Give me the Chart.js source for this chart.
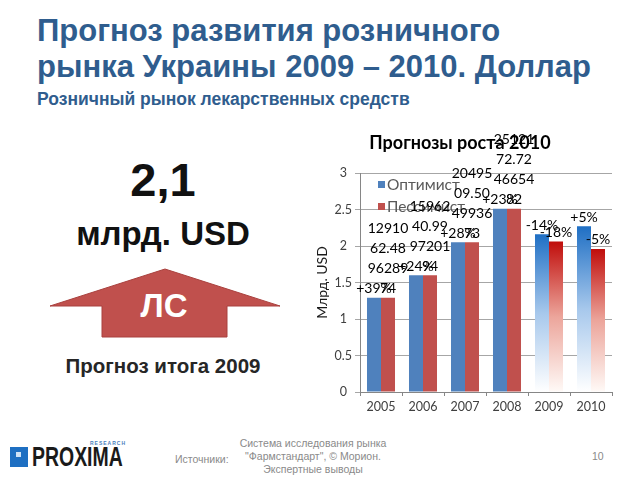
<!DOCTYPE html>
<html lang="ru">
<head>
<meta charset="UTF-8">
<title>Прогноз развития розничного рынка Украины 2009 – 2010</title>
<script src="https://cdn.jsdelivr.net/npm/chart.js@4.4.1/dist/chart.umd.min.js"></script>
<style>
    html, body { margin: 0; padding: 0; }
    body {
        width: 640px; height: 480px; position: relative; overflow: hidden;
        background: #fff; font-family: 'Liberation Sans', Arial, sans-serif;
    }
    .abs { position: absolute; white-space: nowrap; }
    .title {
        left: 37px; top: 13px; font-size: 31px; line-height: 36px;
        font-weight: bold; color: #2f5d8e;
    }
    .subtitle { left: 37px; top: 89px; font-size: 17.5px; font-weight: bold; color: #2f5d8e; }
    .big { left: 63px; width: 200px; text-align: center; font-weight: bold; color: #111; }
    #chart-box { position: absolute; left: 310px; top: 130px; width: 320px; height: 300px; }
    .foot { color: #8a8a8a; font-size: 10.5px; }
</style>
</head>
<body>
    <div class="abs title">Прогноз развития розничного<br>рынка Украины 2009 – 2010. Доллар</div>
    <div class="abs subtitle">Розничный рынок лекарственных средств</div>

    <div class="abs big" style="top:156px;font-size:47px;line-height:47px;">2,1</div>
    <div class="abs big" style="top:216px;font-size:33px;line-height:36px;">млрд. USD</div>

    <svg class="abs" style="left:0;top:0" width="320" height="400">
        <polygon points="50,306 165,269 280,306 227,306 227,337 102,337 102,306"
                 fill="#c0504d" stroke="#a9413e" stroke-width="1"/>
        <text x="164" y="317" fill="#fff" font-size="33" font-weight="bold"
              text-anchor="middle" font-family="Liberation Sans, Arial">ЛС</text>
    </svg>
    <div class="abs big" style="top:354px;font-size:20.5px;line-height:24px;color:#262626;">Прогноз итога 2009</div>

    <div id="chart-box"><canvas id="chart"></canvas></div>

    <!-- footer -->
    <div class="abs" style="left:10px;top:447px;width:18px;height:20px;background:#1e6fc2;"></div>
    <div class="abs" style="left:16px;top:452px;width:5px;height:5px;background:#cfe3f7;"></div>
    <div class="abs" style="left:90px;top:440px;font-size:5px;color:#4a7ebb;letter-spacing:1px;font-weight:bold;">RESEARCH</div>
    <div class="abs" style="left:32px;top:444px;font-size:27px;line-height:27px;font-weight:bold;color:#1a1a1a;transform:scaleX(0.72);transform-origin:0 0;">PROXIMA</div>
    <div class="abs foot" style="left:175px;top:453px;">Источники:</div>
    <div class="abs foot" style="left:213px;top:437px;width:200px;text-align:center;line-height:13px;">Система исследования рынка<br>"Фармстандарт", © Морион.<br>Экспертные выводы</div>
    <div class="abs foot" style="left:592px;top:450px;">10</div>

<script>
    const categories = ['2005', '2006', '2007', '2008', '2009', '2010'];
    const forecastYears = ['2009', '2010'];
    const optimist = [1.29, 1.60, 2.05, 2.51, 2.16, 2.27];
    const pessimist = [1.29, 1.60, 2.05, 2.51, 2.06, 1.96];
    const optimistLabels = [['+39%'], ['+24%'], ['+28%'], ['+23%'], ['-14%'], ['+5%']];
    const pessimistLabels = [
        ['12910', '62.48', '96289', '74'],
        ['15962', '40.99', '97201', '94'],
        ['20495', '09.50', '49936', '73'],
        ['25121', '72.72', '46654', '82'],
        ['-18%'],
        ['-5%']
    ];
    const yTickLabels = ['0', '0.5', '1', '1.5', '2', '2.5', '3'];
    const seriesNames = ['Оптимист', 'Пессимист'];

    const FONT = "Lato, 'Open Sans', sans-serif";

    // solid colour for history, fading gradient for forecast years
    function barFill(solid, top, mid, bottom) {
        return function(ctx) {
            const chart = ctx.chart;
            const area = chart.chartArea;
            if (!area || !forecastYears.includes(categories[ctx.dataIndex])) return solid;
            const yTop = chart.scales.y.getPixelForValue(ctx.raw);
            if (!isFinite(yTop)) return solid;
            const g = chart.ctx.createLinearGradient(0, yTop, 0, area.bottom);
            g.addColorStop(0, top);
            g.addColorStop(0.5, mid);
            g.addColorStop(1, bottom);
            return g;
        };
    }

    // title, legend inside plot and bar labels
    const decorPlugin = {
        id: 'decor',
        afterDatasetsDraw(chart) {
            const c = chart.ctx;
            c.save();
            // legend
            const colors = ['#4f81bd', '#c0504d'];
            seriesNames.forEach((name, i) => {
                const y = 55 + i * 22;
                c.fillStyle = colors[i];
                c.fillRect(68, y - 4, 7, 7);
                c.fillStyle = '#595959';
                c.font = '15.5px ' + FONT;
                c.textAlign = 'left';
                c.textBaseline = 'middle';
                c.fillText(name, 77, y);
            });
            // bar labels
            const allLabels = [optimistLabels, pessimistLabels];
            c.fillStyle = '#000';
            c.font = '14px ' + FONT;
            c.textAlign = 'center';
            c.textBaseline = 'middle';
            chart.data.datasets.forEach((ds, di) => {
                chart.getDatasetMeta(di).data.forEach((bar, i) => {
                    const lines = allLabels[di][i];
                    lines.forEach((t, k) => {
                        const y = bar.y - 9 - (lines.length - 1 - k) * 20;
                        c.fillText(t, bar.x, y);
                    });
                });
            });
            // chart title
            c.font = 'bold 18px ' + FONT;
            c.fillStyle = '#000';
            c.fillText('Прогнозы роста 2010', 150, 13);
            c.restore();
        }
    };

    new Chart(document.getElementById('chart'), {
        type: 'bar',
        data: {
            labels: categories,
            datasets: [
                {
                    label: seriesNames[0],
                    data: optimist,
                    backgroundColor: barFill('#4f81bd', '#1f6fc4', '#a7c8ec', '#ffffff')
                },
                {
                    label: seriesNames[1],
                    data: pessimist,
                    backgroundColor: barFill('#c0504d', '#c00d0b', '#eca59b', '#fffaf7')
                }
            ]
        },
        plugins: [decorPlugin],
        options: {
            responsive: true,
            maintainAspectRatio: false,
            animation: false,
            layout: { padding: { top: 43, right: 18, left: 0, bottom: 0 } },
            datasets: { bar: { categoryPercentage: 0.667, barPercentage: 1.0 } },
            plugins: {
                legend: { display: false },
                tooltip: { enabled: false }
            },
            scales: {
                x: {
                    afterFit: (s) => { s.height = 38; },
                    grid: { display: true, drawOnChartArea: false, offset: true, tickLength: 4, color: '#868686' },
                    border: { color: '#868686' },
                    ticks: { color: '#404040', font: { family: FONT, size: 12.5 }, padding: 3 }
                },
                y: {
                    min: 0,
                    max: 3,
                    afterFit: (s) => { s.width = 50; },
                    grid: { color: '#a6a6a6', tickLength: 5 },
                    border: { color: '#868686' },
                    ticks: {
                        stepSize: 0.5,
                        color: '#404040',
                        crossAlign: 'center',
                        padding: 3,
                        font: { family: FONT, size: 12.5 },
                        callback: (v, i) => yTickLabels[i]
                    },
                    title: {
                        display: true,
                        text: 'Млрд. USD',
                        color: '#1a1a1a',
                        font: { family: FONT, size: 14 },
                        padding: { top: 4, bottom: 0 }
                    }
                }
            }
        }
    });
</script>
</body>
</html>
